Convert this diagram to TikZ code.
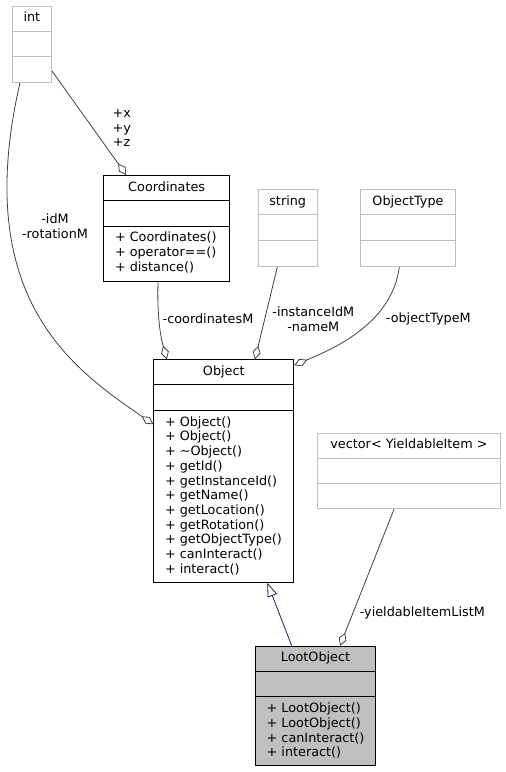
\documentclass[tikz,border=0pt]{standalone}
\usepackage{fontspec}
\setmainfont{DejaVu Sans}
\usetikzlibrary{arrows.meta, calc}

\definecolor{edgegray}{HTML}{404040}
\definecolor{boxgray}{HTML}{BFBFBF}
\definecolor{inheritblue}{HTML}{191970}

% name, style, north west corner, width, height, title, operations
\newcommand{\umlclass}[7]{%
  \node[#2, minimum width=#4pt, minimum height=#5pt, anchor=north west] (#1) at #3 {};
  \draw[#2] ([yshift=-25.5pt]#1.north west) -- ([yshift=-25.5pt]#1.north east);
  \draw[#2] ([yshift=-51pt]#1.north west) -- ([yshift=-51pt]#1.north east);
  \node[classname] (#1 name) at ([yshift=-12.7pt]#1.north) {#6};
  \if\relax\detokenize{#7}\relax\else
    \node[members] (#1 ops) at ([xshift=11.5pt, yshift=-57pt]#1.north west) {#7};
  \fi
}

\begin{document}
\begin{tikzpicture}[x=1pt, y=-1pt,
    txt/.style={font=\fontsize{12.8}{14.7}\selectfont, inner sep=0pt},
    cls/.style={draw=black, line width=1pt},
    extcls/.style={draw=boxgray, line width=1pt},
    curcls/.style={cls, fill=boxgray},
    classname/.style={txt, text height=9.3pt, text depth=2.6pt},
    members/.style={txt, align=left, anchor=north west},
    lbl/.style={txt, align=center},
    assoc/.style={draw=edgegray, line width=0.8pt, -{Diamond[open, length=14pt, width=8pt]}},
    inherit/.style={draw=inheritblue, line width=0.8pt, -{Triangle[open, length=14pt, width=10pt]}}]
    \useasboundingbox (0,0) rectangle (506,772);

    \umlclass{int}{extcls}{(11.7,5.7)}{39.3}{76}{int}{}
    \umlclass{coords}{cls}{(103.3,175)}{125.7}{105.7}{Coordinates}
        {+ Coordinates()\\+ operator==()\\+ distance()}
    \umlclass{string}{extcls}{(257.7,189.3)}{59}{76.7}{string}{}
    \umlclass{objtype}{extcls}{(360,189.3)}{95}{76.7}{ObjectType}{}
    \umlclass{object}{cls}{(153.3,359.3)}{140}{222.4}{Object}
        {+ Object()\\+ Object()\\+ \textasciitilde{}Object()\\+ getId()\\+ getInstanceId()\\+ getName()\\+ getLocation()\\+ getRotation()\\+ getObjectType()\\+ canInteract()\\+ interact()}
    \umlclass{vector}{extcls}{(317,432.7)}{183}{75.6}{vector< YieldableItem >}{}
    \umlclass{loot}{curcls}{(255,645.7)}{120}{119.3}{LootObject}
        {+ LootObject()\\+ LootObject()\\+ canInteract()\\+ interact()}

    \draw[assoc] ([yshift=11.7pt]int.south east) -- ([xshift=23pt]coords.north west);
    \draw[assoc] ([xshift=8.3pt]int.south west) .. controls (-30,300) and (75,370) .. ([yshift=-65pt]object.north west);
    \draw[assoc] ([xshift=54.7pt]coords.south west) .. controls (157,320) and (161,338) .. ([xshift=13.5pt]object.north west);
    \draw[assoc] ([xshift=19.6pt]string.south west) -- ([xshift=101.7pt]object.north west);
    \draw[assoc] ([xshift=39.3pt]objtype.south west) .. controls (392,325) and (330,350) .. ([yshift=-6pt]object.north east);
    \draw[inherit] ([xshift=36.7pt]loot.north west) -- ([xshift=114pt]object.south west);
    \draw[assoc] ([xshift=77pt]vector.south west) -- ([xshift=85pt]loot.north west);

    \node[lbl] (xyz) at (121.7,128) {+x\\+y\\+z};
    \node[lbl] (idm) at (55,226.5) {-idM\\-rotationM};
    \node[lbl] (coordm) at (208,318.5) {-coordinatesM};
    \node[lbl] (namem) at (313.3,319) {-instanceIdM\\-nameM};
    \node[lbl] (typem) at (428.3,318.5) {-objectTypeM};
    \node[lbl] (itemm) at (422.3,612.7) {-yieldableItemListM};
\end{tikzpicture}
\end{document}
